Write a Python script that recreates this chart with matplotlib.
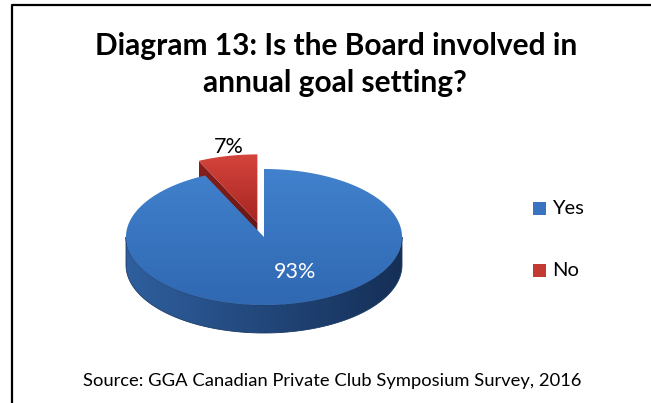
import matplotlib as mpl
mpl.use('Agg')
import matplotlib.pyplot as plt
import numpy as np
from matplotlib.patches import Polygon, Rectangle
from matplotlib.colors import LinearSegmentedColormap

labels = ['Yes', 'No']
values = [93, 7]
title = 'Diagram 13: Is the Board involved in\nannual goal setting?'
source = 'Source: GGA Canadian Private Club Symposium Survey, 2016'

FONT = ['Lato', 'DejaVu Sans']

# pie geometry in pixel space
cx, cy = 264, 237
rx, ry = 138, 68
depth = 28
explode = [0, 0.22]

top_cols = [('#4181cd', '#3068b2'), ('#d4443c', '#a82622')]
side_cols = [('#2f5f9e', '#152f57'), ('#8a1f1c', '#5e1412')]
legend_cols = ['#3a74c0', '#c23a32']


def rim(theta, ox=0, oy=0, dz=0):
  # theta in degrees, clockwise from 12 o'clock
  t = np.radians(theta)
  return np.column_stack([cx + ox + rx * np.sin(t), cy + oy - ry * np.cos(t) + dz])


def fill_grad(ax, verts, c0, c1, horizontal=False, z=1):
  poly = Polygon(verts, closed=True, facecolor='none', edgecolor='none')
  ax.add_patch(poly)
  x0, y0 = verts.min(axis=0)
  x1, y1 = verts.max(axis=0)
  g = np.linspace(0, 1, 256)
  g = g[None, :] if horizontal else g[:, None]
  cmap = LinearSegmentedColormap.from_list('g', [c0, c1])
  im = ax.imshow(g, cmap=cmap, extent=(x0, x1, y1, y0), origin='upper',
                 aspect='auto', interpolation='bilinear', zorder=z)
  im.set_clip_path(poly)


fig = plt.figure(figsize=(6.51, 4.03), dpi=100)
ax = fig.add_axes([0, 0, 1, 1])
ax.axis('off')

# frame lines (left and top)
ax.plot([12, 12, 651], [403, 5, 5], color='black', lw=1.6, solid_capstyle='butt', zorder=10)

total = float(sum(values))
starts = np.cumsum([0] + values[:-1]) / total * 360
spans = np.array(values) / total * 360

# No slice (exploded, drawn behind)
s, w = starts[1], spans[1]
mid = np.radians(s + w / 2)
ox, oy = rx * explode[1] * np.sin(mid), -ry * explode[1] * np.cos(mid)
apex = np.array([[cx + ox, cy + oy]])
edge = rim(s, ox, oy)
wall = np.vstack([apex, edge, edge + [0, depth], apex + [0, depth]])
fill_grad(ax, wall, side_cols[1][0], side_cols[1][1], z=1)
arc = rim(np.linspace(s, s + w, 40), ox, oy)
fill_grad(ax, np.vstack([apex, arc]), top_cols[1][0], top_cols[1][1], z=2)

# Yes slice: front side wall then top surface
s, w = starts[0], spans[0]
front = rim(np.linspace(90, 270, 120))
side = np.vstack([front, (front + [0, depth])[::-1]])
fill_grad(ax, side, side_cols[0][0], side_cols[0][1], horizontal=True, z=3)
ax.add_patch(Polygon(side, closed=True, facecolor='none', edgecolor='#1c3a66', lw=0.6, zorder=3))
arc = rim(np.linspace(s, s + w, 300))
fill_grad(ax, np.vstack([[[cx, cy]], arc]), top_cols[0][0], top_cols[0][1], z=4)

# percentage labels
ax.text(295, 272, '{}%'.format(values[0]), color='white', fontsize=15.5, family=FONT,
        ha='center', va='center', zorder=6)
ax.text(229, 147, '{}%'.format(values[1]), color='black', fontsize=15.5, family=FONT,
        ha='center', va='center', zorder=6)

# legend
for i, (lab, col) in enumerate(zip(labels, legend_cols)):
  y = 208 + i * 62
  ax.add_patch(Rectangle((533, y - 6.5), 13, 13, facecolor=col, edgecolor='none', zorder=6))
  ax.text(552, y, lab, fontsize=14.5, family=FONT, ha='left', va='center', zorder=6)

ax.text(336, 46, title.split('\n')[0], fontsize=21.5, fontweight='bold', family=FONT,
        ha='center', va='center', zorder=6)
ax.text(335, 83, title.split('\n')[1], fontsize=21.5, fontweight='bold', family=FONT,
        ha='center', va='center', zorder=6)
ax.text(332, 381, source, fontsize=13.2, family=FONT, ha='center', va='center', zorder=6)

ax.set_xlim(0, 651)
ax.set_ylim(403, 0)
plt.savefig('out.png', dpi=100)
plt.close()
